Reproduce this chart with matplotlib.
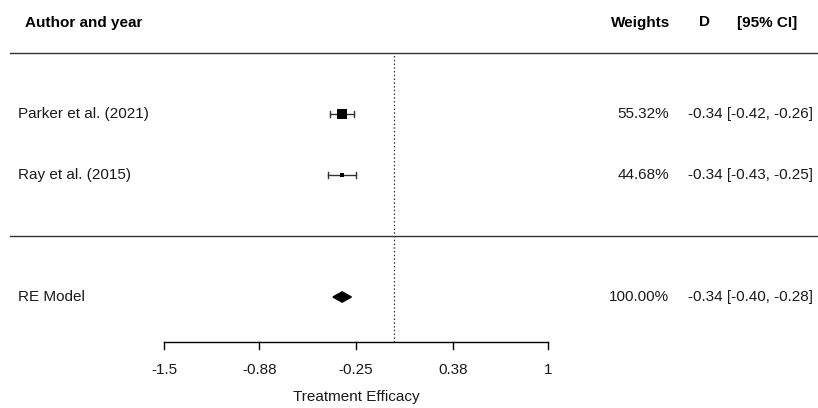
import matplotlib
matplotlib.use("Agg")
import matplotlib.pyplot as plt
import numpy as np

# study data
studies = ["Parker et al. (2021)", "Ray et al. (2015)"]
estimates = [-0.34, -0.34]
ci_low = [-0.42, -0.43]
ci_high = [-0.26, -0.25]
weights = [55.32, 44.68]

# pooled random-effects estimate
re_est = -0.34
re_low = -0.40
re_high = -0.28

xticks = [-1.5, -0.88, -0.25, 0.38, 1]
xtick_labels = ["-1.5", "-0.88", "-0.25", "0.38", "1"]

plt.rcParams["font.family"] = ["Liberation Sans", "DejaVu Sans"]

W, H = 818, 408
fig = plt.figure(figsize=(W / 100, H / 100), dpi=100)
ax = fig.add_axes([0, 0, 1, 1])
ax.set_axis_off()

# map pixels to data units: -1.5 at x=164px, 1 at x=548px; row 1 at y=175px, 61px per row
upx = 2.5 / 384
x0 = -1.5 - 164 * upx
x1 = 1 + (W - 548) * upx
ax.set_xlim(x0, x1)
rpx = 61.0
ax.set_ylim(1 - (H - 175) / rpx, 1 + 175 / rpx)

def px(x):
    return x0 + x * upx

fs = 11
txt_col = "#1a1a1a"
rows = np.arange(len(studies), 0, -1)
line_col = "#333333"

# header
ax.text(px(25), 3.5, "Author and year", fontsize=fs, fontweight="bold", ha="left", va="center")
ax.text(px(670), 3.5, "Weights", fontsize=fs, fontweight="bold", ha="right", va="center")
ax.text(px(705), 3.5, "D", fontsize=fs, fontweight="bold", ha="center", va="center")
ax.text(px(797), 3.5, "[95% CI]", fontsize=fs, fontweight="bold", ha="right", va="center")

# horizontal rules
ax.plot([px(10), x1], [3, 3], color=line_col, lw=1)
ax.plot([px(10), x1], [0, 0], color=line_col, lw=1)

# reference line at zero
ax.plot([0, 0], [-1.74, 3], color=line_col, lw=0.9, ls=(0, (1.2, 1.8)))

# studies
wmax = max(weights)
for r, name, est, lo, hi, w in zip(rows, studies, estimates, ci_low, ci_high, weights):
    ax.plot([lo, hi], [r, r], color=line_col, lw=1)
    cap = 0.055
    ax.plot([lo, lo], [r - cap, r + cap], color=line_col, lw=1)
    ax.plot([hi, hi], [r - cap, r + cap], color=line_col, lw=1)
    size = 7.2 if w == wmax else 2.3
    ax.plot(est, r, marker="s", ms=size, color="black", mew=0)
    ax.text(px(18), r, name, fontsize=fs, color=txt_col, ha="left", va="center")
    ax.text(px(669), r, f"{w:.2f}%", fontsize=fs, color=txt_col, ha="right", va="center")
    ax.text(px(813), r, f"{est:.2f} [{lo:.2f}, {hi:.2f}]", fontsize=fs, color=txt_col,
            ha="right", va="center")

# RE model diamond
rr = -1
dh = 0.085
ax.fill([re_low, re_est, re_high, re_est], [rr, rr + dh, rr, rr - dh], color="black")
ax.text(px(18), rr, "RE Model", fontsize=fs, color=txt_col, ha="left", va="center")
ax.text(px(669), rr, "100.00%", fontsize=fs, color=txt_col, ha="right", va="center")
ax.text(px(813), rr, f"{re_est:.2f} [{re_low:.2f}, {re_high:.2f}]", fontsize=fs, color=txt_col,
        ha="right", va="center")

# x axis
ya = -1.74
ax.plot([xticks[0], xticks[-1]], [ya, ya], color="black", lw=1)
for t, lab in zip(xticks, xtick_labels):
    ax.plot([t, t], [ya, ya - 0.12], color="black", lw=1)
    ax.text(t, ya - 0.45, lab, fontsize=fs, color=txt_col, ha="center", va="center")
ax.text((xticks[0] + xticks[-1]) / 2, ya - 0.9, "Treatment Efficacy", fontsize=fs,
        color=txt_col, ha="center", va="center")

fig.savefig("out.png", dpi=100)
